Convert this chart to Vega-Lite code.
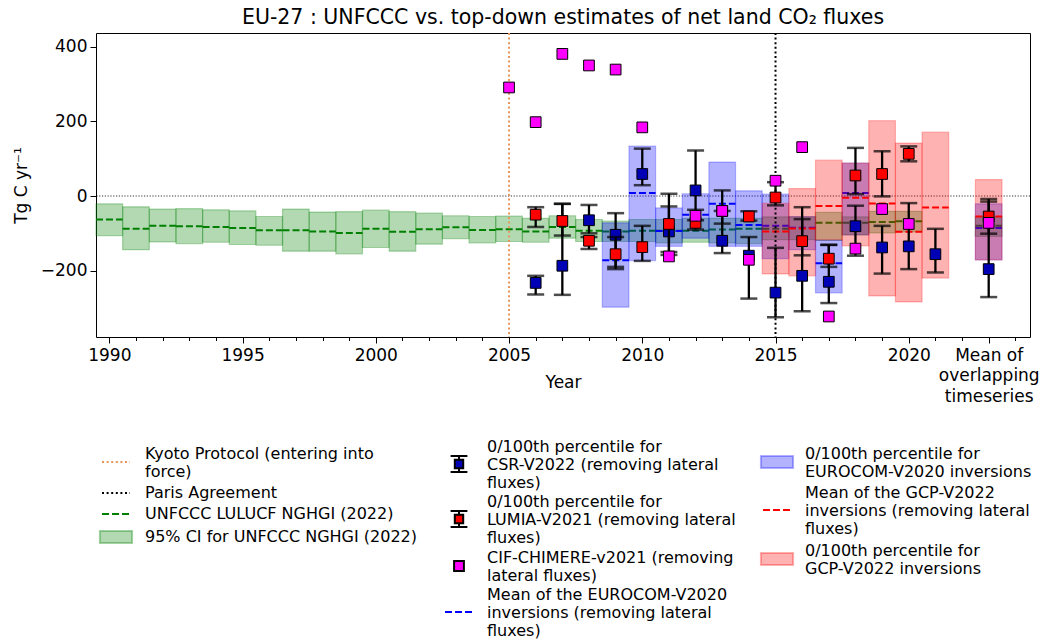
{
  "$schema": "https://vega.github.io/schema/vega-lite/v6.json",
  "width": 934,
  "height": 304,
  "autosize": "none",
  "padding": {"left": 96, "top": 33, "right": 14, "bottom": 305},
  "background": "white",
  "title": {
    "text": "EU-27 : UNFCCC vs. top-down estimates of net land CO₂ fluxes",
    "fontSize": 20.5,
    "fontWeight": "normal",
    "color": "black",
    "anchor": "middle",
    "frame": "group",
    "baseline": "alphabetic",
    "offset": -12
  },
  "config": {
    "font": "DejaVu Sans",
    "view": {"stroke": "black", "strokeWidth": 1},
    "axis": {"grid": false, "domain": false, "tickColor": "black", "labelColor": "black", "titleColor": "black"}
  },
  "datasets": {
    "unfccc": [
      {"year": 1990, "mean": -63, "lo": -106, "hi": -21},
      {"year": 1991, "mean": -88, "lo": -144, "hi": -29},
      {"year": 1992, "mean": -80, "lo": -123, "hi": -35},
      {"year": 1993, "mean": -81, "lo": -128, "hi": -34},
      {"year": 1994, "mean": -83, "lo": -124, "hi": -37},
      {"year": 1995, "mean": -86, "lo": -130, "hi": -40},
      {"year": 1996, "mean": -92, "lo": -132, "hi": -55},
      {"year": 1997, "mean": -92, "lo": -148, "hi": -35},
      {"year": 1998, "mean": -95, "lo": -148, "hi": -43},
      {"year": 1999, "mean": -99, "lo": -155, "hi": -42},
      {"year": 2000, "mean": -88, "lo": -138, "hi": -38},
      {"year": 2001, "mean": -96, "lo": -148, "hi": -42},
      {"year": 2002, "mean": -89, "lo": -129, "hi": -46},
      {"year": 2003, "mean": -84, "lo": -114, "hi": -53},
      {"year": 2004, "mean": -91, "lo": -126, "hi": -55},
      {"year": 2005, "mean": -89, "lo": -122, "hi": -54},
      {"year": 2006, "mean": -95, "lo": -124, "hi": -60},
      {"year": 2007, "mean": -83, "lo": -113, "hi": -53},
      {"year": 2008, "mean": -93, "lo": -122, "hi": -63},
      {"year": 2009, "mean": -95, "lo": -122, "hi": -67},
      {"year": 2010, "mean": -93, "lo": -122, "hi": -63},
      {"year": 2011, "mean": -93, "lo": -126, "hi": -63},
      {"year": 2012, "mean": -93, "lo": -124, "hi": -60},
      {"year": 2013, "mean": -90, "lo": -126, "hi": -60},
      {"year": 2014, "mean": -88, "lo": -128, "hi": -60},
      {"year": 2015, "mean": -88, "lo": -117, "hi": -56},
      {"year": 2016, "mean": -86, "lo": -117, "hi": -56},
      {"year": 2017, "mean": -72, "lo": -119, "hi": -44},
      {"year": 2018, "mean": -72, "lo": -104, "hi": -56},
      {"year": 2019, "mean": -70, "lo": -99, "hi": -41},
      {"year": 2020, "mean": -68, "lo": -96, "hi": -41},
      {"year": 2023, "mean": -80, "lo": -108, "hi": -55}
    ],
    "eurocom": [
      {"year": 2009, "mean": -172, "lo": -298, "hi": -72},
      {"year": 2010, "mean": 8, "lo": -173, "hi": 134},
      {"year": 2011, "mean": -94, "lo": -135, "hi": -32},
      {"year": 2012, "mean": -50, "lo": -113, "hi": 6},
      {"year": 2013, "mean": -21, "lo": -135, "hi": 91},
      {"year": 2014, "mean": -78, "lo": -135, "hi": 14},
      {"year": 2015, "mean": -80, "lo": -168, "hi": 5},
      {"year": 2016, "mean": -85, "lo": -144, "hi": -55},
      {"year": 2017, "mean": -180, "lo": -260, "hi": -118},
      {"year": 2018, "mean": 8, "lo": -104, "hi": 88},
      {"year": 2023, "mean": -86, "lo": -171, "hi": -21}
    ],
    "gcp": [
      {"year": 2015, "mean": -95, "lo": -209, "hi": -20},
      {"year": 2016, "mean": -87, "lo": -214, "hi": 20},
      {"year": 2017, "mean": -27, "lo": -118, "hi": 96},
      {"year": 2018, "mean": -5, "lo": -134, "hi": 88},
      {"year": 2019, "mean": -20, "lo": -268, "hi": 202},
      {"year": 2020, "mean": -96, "lo": -284, "hi": 142},
      {"year": 2021, "mean": -31, "lo": -220, "hi": 171},
      {"year": 2023, "mean": -55, "lo": -171, "hi": 44}
    ],
    "csr": [
      {"year": 2006, "value": -233, "lo": -264, "hi": -214},
      {"year": 2007, "value": -187, "lo": -265, "hi": -21},
      {"year": 2008, "value": -65, "lo": -100, "hi": -24},
      {"year": 2009, "value": -104, "lo": -196, "hi": -46},
      {"year": 2010, "value": 59, "lo": 29, "hi": 127},
      {"year": 2011, "value": -95, "lo": -150, "hi": 6},
      {"year": 2012, "value": 15, "lo": -65, "hi": 122},
      {"year": 2013, "value": -120, "lo": -153, "hi": 15},
      {"year": 2014, "value": -160, "lo": -275, "hi": -110},
      {"year": 2015, "value": -259, "lo": -325, "hi": -139},
      {"year": 2016, "value": -214, "lo": -309, "hi": -30},
      {"year": 2017, "value": -230, "lo": -287, "hi": -131},
      {"year": 2018, "value": -81, "lo": -160, "hi": -26},
      {"year": 2019, "value": -138, "lo": -208, "hi": -80},
      {"year": 2020, "value": -135, "lo": -196, "hi": -19},
      {"year": 2021, "value": -156, "lo": -205, "hi": -88},
      {"year": 2023, "value": -196, "lo": -271, "hi": -8}
    ],
    "lumia": [
      {"year": 2006, "value": -50, "lo": -83, "hi": -30},
      {"year": 2007, "value": -67, "lo": -106, "hi": -21},
      {"year": 2008, "value": -120, "lo": -142, "hi": -110},
      {"year": 2009, "value": -156, "lo": -190, "hi": -110},
      {"year": 2010, "value": -137, "lo": -174, "hi": -80},
      {"year": 2011, "value": -75, "lo": -158, "hi": -28},
      {"year": 2012, "value": -72, "lo": -90, "hi": -37},
      {"year": 2013, "value": -40, "lo": -74, "hi": -40},
      {"year": 2014, "value": -55, "lo": -66, "hi": -41},
      {"year": 2015, "value": -4, "lo": -25, "hi": 37},
      {"year": 2016, "value": -121, "lo": -159, "hi": -62},
      {"year": 2017, "value": -168, "lo": -190, "hi": -131},
      {"year": 2018, "value": 55, "lo": 5, "hi": 129},
      {"year": 2019, "value": 59, "lo": -1, "hi": 120},
      {"year": 2020, "value": 113, "lo": 93, "hi": 133},
      {"year": 2023, "value": -55, "lo": -101, "hi": -15}
    ],
    "cif": [
      {"year": 2005, "value": 291},
      {"year": 2006, "value": 198},
      {"year": 2007, "value": 381},
      {"year": 2008, "value": 350},
      {"year": 2009, "value": 339},
      {"year": 2010, "value": 184},
      {"year": 2011, "value": -162},
      {"year": 2012, "value": -53},
      {"year": 2013, "value": -40},
      {"year": 2014, "value": -171},
      {"year": 2015, "value": 41},
      {"year": 2016, "value": 131},
      {"year": 2017, "value": -323},
      {"year": 2018, "value": -141},
      {"year": 2019, "value": -35},
      {"year": 2020, "value": -75},
      {"year": 2023, "value": -72}
    ]
  },
  "resolve": {
    "axis": {"x": "independent", "y": "independent"},
    "scale": {"stroke": "independent", "shape": "independent", "strokeDash": "independent"}
  },
  "layer": [
    {
      "data": {"name": "unfccc"},
      "mark": {"type": "rect", "xOffset": -13.32, "x2Offset": 13.32, "fill": "#008000", "fillOpacity": 0.3, "stroke": "#008000", "strokeOpacity": 0.3, "strokeWidth": 1.2},
      "encoding": {
        "x": {
          "field": "year", "type": "quantitative",
          "scale": {"domain": [1989.5, 2024.55], "nice": false, "zero": false},
          "axis": {"orient": "bottom", "values": [1990,1991,1992,1993,1994,1995,1996,1997,1998,1999,2000,2001,2002,2003,2004,2005,2006,2007,2008,2009,2010,2011,2012,2013,2014,2015,2016,2017,2018,2019,2020,2021,2022,2023,2024], "labels": false, "tickSize": 3.5, "title": null, "domain": false}
        },
        "x2": {"field": "year"},
        "y": {
          "field": "lo", "type": "quantitative",
          "scale": {"domain": [-378, 437], "nice": false, "zero": false},
          "axis": {"orient": "left", "values": [-200, 0, 200, 400], "tickSize": 6, "labelFontSize": 17, "labelPadding": 3, "title": "Tg C yr⁻¹", "titleFontSize": 17, "titleFontWeight": "normal", "titlePadding": 10, "domain": false}
        },
        "y2": {"field": "hi"}
      }
    },
    {
      "data": {"values": [{"level": 0}]},
      "mark": {"type": "rule", "color": "black", "strokeWidth": 0.8, "strokeDash": [1.2, 1.6]},
      "encoding": {"y": {"field": "level", "type": "quantitative", "axis": null}}
    },
    {
      "data": {"name": "unfccc"},
      "mark": {"type": "rule", "xOffset": -13.32, "x2Offset": 13.32, "color": "#008000", "strokeWidth": 2, "strokeDash": [7, 3]},
      "encoding": {
        "x": {
          "field": "year", "type": "quantitative",
          "axis": {"orient": "bottom", "values": [1990, 1995, 2000, 2005, 2010, 2015, 2020, 2023], "format": "d", "labelExpr": "datum.value == 2023 ? ['Mean of', 'overlapping', 'timeseries'] : datum.label", "labelFontSize": 17, "labelLineHeight": 20.5, "tickSize": 6, "labelPadding": 4, "labelOverlap": false, "labelFlush": false, "title": "Year", "titleFontSize": 17, "titleFontWeight": "normal", "titleY": 37, "titleBaseline": "top", "domain": false}
        },
        "x2": {"field": "year"},
        "y": {"field": "mean", "type": "quantitative", "axis": null}
      }
    },
    {
      "data": {"name": "eurocom"},
      "mark": {"type": "rect", "xOffset": -13.32, "x2Offset": 13.32, "fill": "#0000ff", "fillOpacity": 0.3, "stroke": "#0000ff", "strokeOpacity": 0.25, "strokeWidth": 1.2},
      "encoding": {
        "x": {"field": "year", "type": "quantitative", "axis": null},
        "x2": {"field": "year"},
        "y": {"field": "lo", "type": "quantitative", "axis": null},
        "y2": {"field": "hi"}
      }
    },
    {
      "data": {"name": "eurocom"},
      "mark": {"type": "rule", "xOffset": -13.32, "x2Offset": 13.32, "color": "#0000ff", "strokeWidth": 2, "strokeDash": [7, 3]},
      "encoding": {
        "x": {"field": "year", "type": "quantitative", "axis": null},
        "x2": {"field": "year"},
        "y": {"field": "mean", "type": "quantitative", "axis": null}
      }
    },
    {
      "data": {"name": "gcp"},
      "mark": {"type": "rect", "xOffset": -13.32, "x2Offset": 13.32, "fill": "#ff0000", "fillOpacity": 0.3, "stroke": "#ff0000", "strokeOpacity": 0.25, "strokeWidth": 1.2},
      "encoding": {
        "x": {"field": "year", "type": "quantitative", "axis": null},
        "x2": {"field": "year"},
        "y": {"field": "lo", "type": "quantitative", "axis": null},
        "y2": {"field": "hi"}
      }
    },
    {
      "data": {"name": "gcp"},
      "mark": {"type": "rule", "xOffset": -13.32, "x2Offset": 13.32, "color": "#ff0000", "strokeWidth": 2, "strokeDash": [7, 3]},
      "encoding": {
        "x": {"field": "year", "type": "quantitative", "axis": null},
        "x2": {"field": "year"},
        "y": {"field": "mean", "type": "quantitative", "axis": null}
      }
    },
    {
      "data": {"values": [{"year": 2005}]},
      "mark": {"type": "rule", "color": "#e8955a", "strokeWidth": 2, "strokeDash": [2, 2.6]},
      "encoding": {"x": {"field": "year", "type": "quantitative", "axis": null}}
    },
    {
      "data": {"values": [{"year": 2015}]},
      "mark": {"type": "rule", "color": "black", "strokeWidth": 2, "strokeDash": [2, 2.6]},
      "encoding": {"x": {"field": "year", "type": "quantitative", "axis": null}}
    },
    {
      "data": {"name": "csr"},
      "mark": {"type": "rule", "color": "black", "strokeWidth": 2.3},
      "encoding": {
        "x": {"field": "year", "type": "quantitative", "axis": null},
        "y": {"field": "lo", "type": "quantitative", "axis": null},
        "y2": {"field": "hi"}
      }
    },
    {
      "data": {"name": "csr"},
      "mark": {"type": "tick", "orient": "horizontal", "color": "black", "size": 17, "thickness": 2.5},
      "encoding": {
        "x": {"field": "year", "type": "quantitative", "axis": null},
        "y": {"field": "lo", "type": "quantitative", "axis": null}
      }
    },
    {
      "data": {"name": "csr"},
      "mark": {"type": "tick", "orient": "horizontal", "color": "black", "size": 17, "thickness": 2.5},
      "encoding": {
        "x": {"field": "year", "type": "quantitative", "axis": null},
        "y": {"field": "hi", "type": "quantitative", "axis": null}
      }
    },
    {
      "data": {"name": "csr"},
      "mark": {"type": "point", "shape": "square", "filled": true, "fill": "#0000b4", "stroke": "black", "strokeWidth": 1, "size": 115, "opacity": 1},
      "encoding": {
        "x": {"field": "year", "type": "quantitative", "axis": null},
        "y": {"field": "value", "type": "quantitative", "axis": null}
      }
    },
    {
      "data": {"name": "lumia"},
      "mark": {"type": "rule", "color": "black", "strokeWidth": 2.3},
      "encoding": {
        "x": {"field": "year", "type": "quantitative", "axis": null},
        "y": {"field": "lo", "type": "quantitative", "axis": null},
        "y2": {"field": "hi"}
      }
    },
    {
      "data": {"name": "lumia"},
      "mark": {"type": "tick", "orient": "horizontal", "color": "black", "size": 17, "thickness": 2.5},
      "encoding": {
        "x": {"field": "year", "type": "quantitative", "axis": null},
        "y": {"field": "lo", "type": "quantitative", "axis": null}
      }
    },
    {
      "data": {"name": "lumia"},
      "mark": {"type": "tick", "orient": "horizontal", "color": "black", "size": 17, "thickness": 2.5},
      "encoding": {
        "x": {"field": "year", "type": "quantitative", "axis": null},
        "y": {"field": "hi", "type": "quantitative", "axis": null}
      }
    },
    {
      "data": {"name": "lumia"},
      "mark": {"type": "point", "shape": "square", "filled": true, "fill": "#ff0000", "stroke": "black", "strokeWidth": 1, "size": 115, "opacity": 1},
      "encoding": {
        "x": {"field": "year", "type": "quantitative", "axis": null},
        "y": {"field": "value", "type": "quantitative", "axis": null}
      }
    },
    {
      "data": {"name": "cif"},
      "mark": {"type": "point", "shape": "square", "filled": true, "fill": "#ff00ff", "stroke": "black", "strokeWidth": 1, "size": 115, "opacity": 1},
      "encoding": {
        "x": {"field": "year", "type": "quantitative", "axis": null},
        "y": {"field": "value", "type": "quantitative", "axis": null}
      }
    },
    {
      "data": {"values": [
        {"entry": "Kyoto Protocol (entering into\nforce)"},
        {"entry": "Paris Agreement"},
        {"entry": "UNFCCC LULUCF NGHGI (2022)"},
        {"entry": "95% CI for UNFCCC NGHGI (2022)"}
      ]},
      "mark": {"type": "point", "filled": false, "opacity": 0},
      "encoding": {
        "stroke": {
          "field": "entry", "type": "nominal",
          "scale": {"domain": ["Kyoto Protocol (entering into\nforce)", "Paris Agreement", "UNFCCC LULUCF NGHGI (2022)", "95% CI for UNFCCC NGHGI (2022)"], "range": ["#e8955a", "black", "#008000", "rgba(0,128,0,0.35)"]},
          "legend": {
            "title": null, "orient": "none", "legendX": 12, "legendY": 421, "direction": "vertical", "padding": 0,
            "symbolSize": 196, "symbolStrokeWidth": 2, "symbolOpacity": 1,
            "labelFont": "DejaVu Sans", "labelFontSize": 16, "labelLineHeight": 17, "labelColor": "black", "labelOffset": 21, "labelLimit": 600, "rowPadding": 5,
            "labelExpr": "split(datum.label, '\\n')",
            "encoding": {
              "symbols": {"fill": {"value": {"expr": "['transparent', 'transparent', 'transparent', 'rgba(0,128,0,0.3)'][datum.index]"}}, "fillOpacity": {"value": 1}, "opacity": {"value": 1}},
              "labels": {"dy": {"value": {"expr": "-(length(split(datum.label, '\\n')) - 1) * 8.5"}}}
            }
          }
        },
        "shape": {
          "field": "entry", "type": "nominal",
          "scale": {"domain": ["Kyoto Protocol (entering into\nforce)", "Paris Agreement", "UNFCCC LULUCF NGHGI (2022)", "95% CI for UNFCCC NGHGI (2022)"], "range": ["M-2,0H2", "M-2,0H2", "M-2,0H2", "M-2.3,-0.85H2.3V0.85H-2.3Z"]},
          "legend": {
            "title": null, "orient": "none", "legendX": 12, "legendY": 421, "direction": "vertical", "padding": 0,
            "symbolSize": 196, "symbolStrokeWidth": 2, "symbolOpacity": 1,
            "labelFont": "DejaVu Sans", "labelFontSize": 16, "labelLineHeight": 17, "labelColor": "black", "labelOffset": 21, "labelLimit": 600, "rowPadding": 5,
            "labelExpr": "split(datum.label, '\\n')",
            "encoding": {
              "symbols": {"fill": {"value": {"expr": "['transparent', 'transparent', 'transparent', 'rgba(0,128,0,0.3)'][datum.index]"}}, "fillOpacity": {"value": 1}, "opacity": {"value": 1}},
              "labels": {"dy": {"value": {"expr": "-(length(split(datum.label, '\\n')) - 1) * 8.5"}}}
            }
          }
        },
        "strokeDash": {
          "field": "entry", "type": "nominal",
          "scale": {"domain": ["Kyoto Protocol (entering into\nforce)", "Paris Agreement", "UNFCCC LULUCF NGHGI (2022)", "95% CI for UNFCCC NGHGI (2022)"], "range": [[2, 2.6], [2, 2.6], [7, 3], [1, 0]]},
          "legend": {
            "title": null, "orient": "none", "legendX": 12, "legendY": 421, "direction": "vertical", "padding": 0,
            "symbolSize": 196, "symbolStrokeWidth": 2, "symbolOpacity": 1,
            "labelFont": "DejaVu Sans", "labelFontSize": 16, "labelLineHeight": 17, "labelColor": "black", "labelOffset": 21, "labelLimit": 600, "rowPadding": 5,
            "labelExpr": "split(datum.label, '\\n')",
            "encoding": {
              "symbols": {"fill": {"value": {"expr": "['transparent', 'transparent', 'transparent', 'rgba(0,128,0,0.3)'][datum.index]"}}, "fillOpacity": {"value": 1}, "opacity": {"value": 1}},
              "labels": {"dy": {"value": {"expr": "-(length(split(datum.label, '\\n')) - 1) * 8.5"}}}
            }
          }
        }
      }
    },
    {
      "data": {"values": [
        {"entry": "0/100th percentile for\nCSR-V2022 (removing lateral\nfluxes)"},
        {"entry": "0/100th percentile for\nLUMIA-V2021 (removing lateral\nfluxes)"},
        {"entry": "CIF-CHIMERE-v2021 (removing\nlateral fluxes)"},
        {"entry": "Mean of the EUROCOM-V2020\ninversions (removing lateral\nfluxes)"}
      ]},
      "mark": {"type": "point", "filled": false, "opacity": 0},
      "encoding": {
        "stroke": {
          "field": "entry", "type": "nominal",
          "scale": {"domain": ["0/100th percentile for\nCSR-V2022 (removing lateral\nfluxes)", "0/100th percentile for\nLUMIA-V2021 (removing lateral\nfluxes)", "CIF-CHIMERE-v2021 (removing\nlateral fluxes)", "Mean of the EUROCOM-V2020\ninversions (removing lateral\nfluxes)"], "range": ["black", "black", "black", "#0000ff"]},
          "legend": {
            "title": null, "orient": "none", "legendX": 355, "legendY": 423, "direction": "vertical", "padding": 0,
            "symbolSize": 196, "symbolStrokeWidth": 2, "symbolOpacity": 1,
            "labelFont": "DejaVu Sans", "labelFontSize": 16, "labelLineHeight": 17, "labelColor": "black", "labelOffset": 20, "labelLimit": 600, "rowPadding": 3,
            "labelExpr": "split(datum.label, '\\n')",
            "encoding": {
              "symbols": {"fill": {"value": {"expr": "['#0000b4', '#ff0000', '#ff00ff', 'transparent'][datum.index]"}}, "fillOpacity": {"value": 1}, "opacity": {"value": 1}},
              "labels": {"dy": {"value": {"expr": "-(length(split(datum.label, '\\n')) - 1) * 8.5"}}}
            }
          }
        },
        "shape": {
          "field": "entry", "type": "nominal",
          "scale": {"domain": ["0/100th percentile for\nCSR-V2022 (removing lateral\nfluxes)", "0/100th percentile for\nLUMIA-V2021 (removing lateral\nfluxes)", "CIF-CHIMERE-v2021 (removing\nlateral fluxes)", "Mean of the EUROCOM-V2020\ninversions (removing lateral\nfluxes)"], "range": ["M-1.2,-1.15H1.2M0,-1.15V-0.6M0,0.6V1.15M-1.2,1.15H1.2M-0.6,-0.6H0.6V0.6H-0.6Z", "M-1.2,-1.15H1.2M0,-1.15V-0.6M0,0.6V1.15M-1.2,1.15H1.2M-0.6,-0.6H0.6V0.6H-0.6Z", "M-0.7,-0.7H0.7V0.7H-0.7Z", "M-2,0H2"]},
          "legend": {
            "title": null, "orient": "none", "legendX": 355, "legendY": 423, "direction": "vertical", "padding": 0,
            "symbolSize": 196, "symbolStrokeWidth": 2, "symbolOpacity": 1,
            "labelFont": "DejaVu Sans", "labelFontSize": 16, "labelLineHeight": 17, "labelColor": "black", "labelOffset": 20, "labelLimit": 600, "rowPadding": 3,
            "labelExpr": "split(datum.label, '\\n')",
            "encoding": {
              "symbols": {"fill": {"value": {"expr": "['#0000b4', '#ff0000', '#ff00ff', 'transparent'][datum.index]"}}, "fillOpacity": {"value": 1}, "opacity": {"value": 1}},
              "labels": {"dy": {"value": {"expr": "-(length(split(datum.label, '\\n')) - 1) * 8.5"}}}
            }
          }
        },
        "strokeDash": {
          "field": "entry", "type": "nominal",
          "scale": {"domain": ["0/100th percentile for\nCSR-V2022 (removing lateral\nfluxes)", "0/100th percentile for\nLUMIA-V2021 (removing lateral\nfluxes)", "CIF-CHIMERE-v2021 (removing\nlateral fluxes)", "Mean of the EUROCOM-V2020\ninversions (removing lateral\nfluxes)"], "range": [[1, 0], [1, 0], [1, 0], [7, 3]]},
          "legend": {
            "title": null, "orient": "none", "legendX": 355, "legendY": 423, "direction": "vertical", "padding": 0,
            "symbolSize": 196, "symbolStrokeWidth": 2, "symbolOpacity": 1,
            "labelFont": "DejaVu Sans", "labelFontSize": 16, "labelLineHeight": 17, "labelColor": "black", "labelOffset": 20, "labelLimit": 600, "rowPadding": 3,
            "labelExpr": "split(datum.label, '\\n')",
            "encoding": {
              "symbols": {"fill": {"value": {"expr": "['#0000b4', '#ff0000', '#ff00ff', 'transparent'][datum.index]"}}, "fillOpacity": {"value": 1}, "opacity": {"value": 1}},
              "labels": {"dy": {"value": {"expr": "-(length(split(datum.label, '\\n')) - 1) * 8.5"}}}
            }
          }
        }
      }
    },
    {
      "data": {"values": [
        {"entry": "0/100th percentile for\nEUROCOM-V2020 inversions"},
        {"entry": "Mean of the GCP-V2022\ninversions (removing lateral\nfluxes)"},
        {"entry": "0/100th percentile for\nGCP-V2022 inversions"}
      ]},
      "mark": {"type": "point", "filled": false, "opacity": 0},
      "encoding": {
        "stroke": {
          "field": "entry", "type": "nominal",
          "scale": {"domain": ["0/100th percentile for\nEUROCOM-V2020 inversions", "Mean of the GCP-V2022\ninversions (removing lateral\nfluxes)", "0/100th percentile for\nGCP-V2022 inversions"], "range": ["rgba(0,0,255,0.3)", "#ff0000", "rgba(255,0,0,0.3)"]},
          "legend": {
            "title": null, "orient": "none", "legendX": 673, "legendY": 421, "direction": "vertical", "padding": 0,
            "symbolSize": 196, "symbolStrokeWidth": 2, "symbolOpacity": 1,
            "labelFont": "DejaVu Sans", "labelFontSize": 16, "labelLineHeight": 17, "labelColor": "black", "labelOffset": 20, "labelLimit": 600, "rowPadding": 5,
            "labelExpr": "split(datum.label, '\\n')",
            "encoding": {
              "symbols": {"fill": {"value": {"expr": "['rgba(0,0,255,0.3)', 'transparent', 'rgba(255,0,0,0.3)'][datum.index]"}}, "fillOpacity": {"value": 1}, "opacity": {"value": 1}},
              "labels": {"dy": {"value": {"expr": "-(length(split(datum.label, '\\n')) - 1) * 8.5"}}}
            }
          }
        },
        "shape": {
          "field": "entry", "type": "nominal",
          "scale": {"domain": ["0/100th percentile for\nEUROCOM-V2020 inversions", "Mean of the GCP-V2022\ninversions (removing lateral\nfluxes)", "0/100th percentile for\nGCP-V2022 inversions"], "range": ["M-2.3,-0.85H2.3V0.85H-2.3Z", "M-2,0H2", "M-2.3,-0.85H2.3V0.85H-2.3Z"]},
          "legend": {
            "title": null, "orient": "none", "legendX": 673, "legendY": 421, "direction": "vertical", "padding": 0,
            "symbolSize": 196, "symbolStrokeWidth": 2, "symbolOpacity": 1,
            "labelFont": "DejaVu Sans", "labelFontSize": 16, "labelLineHeight": 17, "labelColor": "black", "labelOffset": 20, "labelLimit": 600, "rowPadding": 5,
            "labelExpr": "split(datum.label, '\\n')",
            "encoding": {
              "symbols": {"fill": {"value": {"expr": "['rgba(0,0,255,0.3)', 'transparent', 'rgba(255,0,0,0.3)'][datum.index]"}}, "fillOpacity": {"value": 1}, "opacity": {"value": 1}},
              "labels": {"dy": {"value": {"expr": "-(length(split(datum.label, '\\n')) - 1) * 8.5"}}}
            }
          }
        },
        "strokeDash": {
          "field": "entry", "type": "nominal",
          "scale": {"domain": ["0/100th percentile for\nEUROCOM-V2020 inversions", "Mean of the GCP-V2022\ninversions (removing lateral\nfluxes)", "0/100th percentile for\nGCP-V2022 inversions"], "range": [[1, 0], [7, 3], [1, 0]]},
          "legend": {
            "title": null, "orient": "none", "legendX": 673, "legendY": 421, "direction": "vertical", "padding": 0,
            "symbolSize": 196, "symbolStrokeWidth": 2, "symbolOpacity": 1,
            "labelFont": "DejaVu Sans", "labelFontSize": 16, "labelLineHeight": 17, "labelColor": "black", "labelOffset": 20, "labelLimit": 600, "rowPadding": 5,
            "labelExpr": "split(datum.label, '\\n')",
            "encoding": {
              "symbols": {"fill": {"value": {"expr": "['rgba(0,0,255,0.3)', 'transparent', 'rgba(255,0,0,0.3)'][datum.index]"}}, "fillOpacity": {"value": 1}, "opacity": {"value": 1}},
              "labels": {"dy": {"value": {"expr": "-(length(split(datum.label, '\\n')) - 1) * 8.5"}}}
            }
          }
        }
      }
    }
  ]
}
